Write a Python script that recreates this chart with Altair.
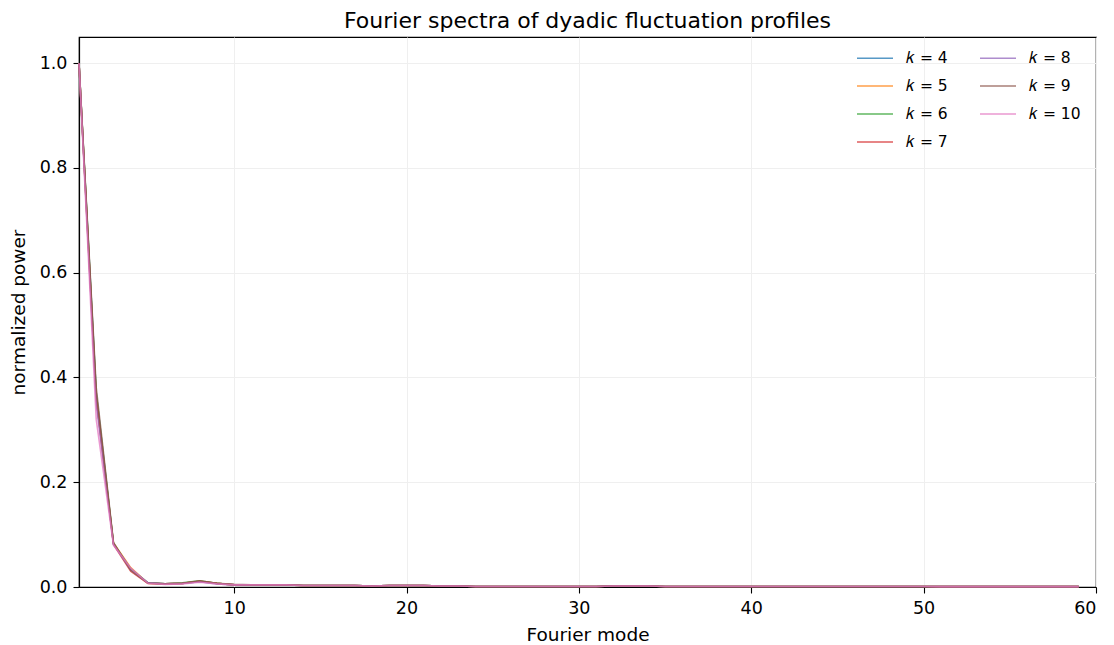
import altair as alt
import pandas as pd

modes = list(range(1, 60))
series_labels = ["𝑘 = 4", "𝑘 = 5", "𝑘 = 6", "𝑘 = 7", "𝑘 = 8", "𝑘 = 9", "𝑘 = 10"]
series_colors = ["#1f77b4", "#ff7f0e", "#2ca02c", "#d62728", "#9467bd", "#8c564b", "#e377c2"]

# first ten modes, read per series
head_k4 = [1.0, 0.370, 0.082, 0.035, 0.008, 0.006, 0.007, 0.010, 0.007, 0.004]
head_k5 = [1.0, 0.360, 0.084, 0.037, 0.007, 0.006, 0.007, 0.011, 0.007, 0.004]
head_k6 = [1.0, 0.370, 0.083, 0.034, 0.008, 0.006, 0.008, 0.012, 0.007, 0.004]
head_k7 = [1.0, 0.360, 0.081, 0.030, 0.007, 0.006, 0.007, 0.011, 0.007, 0.004]
head_k8 = [1.0, 0.350, 0.082, 0.033, 0.008, 0.006, 0.007, 0.010, 0.006, 0.004]
head_k9 = [1.0, 0.380, 0.085, 0.032, 0.007, 0.006, 0.007, 0.012, 0.007, 0.005]
head_k10 = [1.0, 0.320, 0.080, 0.036, 0.007, 0.005, 0.006, 0.009, 0.006, 0.004]

# modes 11..59 (nearly flat, shared reading)
tail_power = [0.004, 0.004, 0.004, 0.003, 0.003, 0.003, 0.003, 0.002, 0.003, 0.003,
              0.003, 0.002, 0.002, 0.001, 0.001, 0.001, 0.001, 0.001, 0.001, 0.001,
              0.001, 0.002, 0.002, 0.002, 0.001, 0.001, 0.001, 0.001, 0.001, 0.001,
              0.001, 0.001, 0.001, 0.001, 0.001, 0.001, 0.001, 0.001, 0.001, 0.001,
              0.0007, 0.0007, 0.0007, 0.0007, 0.0007, 0.0007, 0.0007, 0.0007, 0.0007]

heads = [head_k4, head_k5, head_k6, head_k7, head_k8, head_k9, head_k10]

rows = []
for order, (lab, head) in enumerate(zip(series_labels, heads)):
    vals = head + tail_power
    for m, v in zip(modes, vals):
        rows.append({"mode": m, "power": v, "series": lab, "order": order})
df = pd.DataFrame(rows)

FONT = "DejaVu Sans"

chart = alt.Chart(df).mark_line(strokeWidth=1.6, opacity=0.75).encode(
    x=alt.X("mode:Q", title="Fourier mode",
            scale=alt.Scale(domain=[1, 60], nice=False, zero=False),
            axis=alt.Axis(values=[10, 20, 30, 40, 50, 60], format="d")),
    y=alt.Y("power:Q", title="normalized power",
            scale=alt.Scale(domain=[0, 1.05], nice=False),
            axis=alt.Axis(values=[0, 0.2, 0.4, 0.6, 0.8, 1.0], format=".1f")),
    color=alt.Color("series:N", title=None,
                    scale=alt.Scale(domain=series_labels, range=series_colors),
                    legend=alt.Legend(orient="none", legendX=777, legendY=2, columns=2,
                                      symbolType="stroke", symbolSize=1296,
                                      symbolStrokeWidth=1.6, symbolOpacity=0.75,
                                      labelFontSize=15.5, labelFont=FONT, labelColor="#000",
                                      labelOffset=12, columnPadding=28, rowPadding=0,
                                      padding=0)),
    detail="order:O",
    order="mode:Q",
).properties(
    width=1017, height=550,
    title=alt.TitleParams("Fourier spectra of dyadic fluctuation profiles",
                          fontSize=22, font=FONT, fontWeight="normal", color="#000", offset=4),
    autosize=alt.AutoSizeParams(type="none"),
    padding={"left": 71, "top": 29, "right": 10, "bottom": 60},
).configure_view(
    stroke="#000", strokeWidth=1.2
).configure_axis(
    labelFont=FONT, titleFont=FONT, labelFontSize=17.5, titleFontSize=18.5,
    labelColor="#000", titleColor="#000", titleFontWeight="normal",
    domainColor="#000", domainWidth=1.2, tickColor="#000", tickSize=6, tickWidth=1.1,
    gridColor="#efefef", gridWidth=1, labelPadding=6,
).configure_axisX(
    titlePadding=9, labelPadding=6
).configure_axisY(
    titlePadding=11
)

chart.save("out.html", embed_options={"renderer": "svg", "actions": False})
